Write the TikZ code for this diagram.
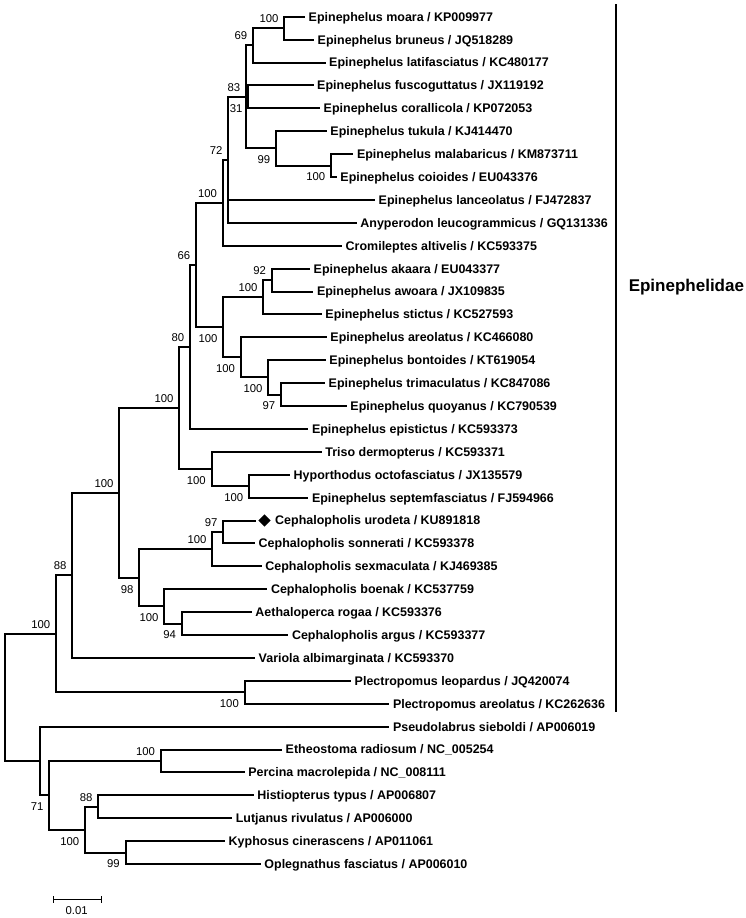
\documentclass[tikz,border=0pt]{standalone}
\usepackage{fontspec}
\setmainfont{Liberation Sans}
\usetikzlibrary{calc,shapes.geometric}
\begin{document}
\begin{tikzpicture}[x=0.75pt,y=-0.75pt,
  br/.style={line width=1.5pt},
  leaf/.style={anchor=west, inner xsep=2.6pt, inner ysep=0pt, font=\fontsize{9.35}{10}\selectfont\bfseries, text height=6.7pt, text depth=0pt},
  bs/.style={anchor=east, inner sep=0pt, font=\fontsize{8.5}{9}\selectfont},
  dmark/.style={diamond, fill=black, inner sep=0pt, minimum width=9.2pt, minimum height=9.2pt},
  cladelab/.style={anchor=west, inner sep=0pt, font=\fontsize{12.75}{14}\selectfont\bfseries}
]
\useasboundingbox (0,0) rectangle (746,918);
% ---- leaf tips ----
\coordinate (l0) at (305,16.7);
\coordinate (l1) at (314,39.6);
\coordinate (l2) at (325.5,62.5);
\coordinate (l3) at (313.5,85.4);
\coordinate (l4) at (320,108.3);
\coordinate (l5) at (326.7,131.2);
\coordinate (l6) at (353.3,154.1);
\coordinate (l7) at (336.7,177.0);
\coordinate (l8) at (375,199.9);
\coordinate (l9) at (356.7,222.8);
\coordinate (l10) at (342,245.7);
\coordinate (l11) at (310,268.6);
\coordinate (l12) at (313.3,291.5);
\coordinate (l13) at (321.7,314.4);
\coordinate (l14) at (326.7,337.3);
\coordinate (l15) at (325.7,360.2);
\coordinate (l16) at (325,383.1);
\coordinate (l17) at (346.7,406.0);
\coordinate (l18) at (308.3,428.9);
\coordinate (l19) at (321.7,451.8);
\coordinate (l20) at (290,474.7);
\coordinate (l21) at (308.3,497.6);
\coordinate (l22) at (256,520.5);
\coordinate (l23) at (255,543.4);
\coordinate (l24) at (261.7,566.3);
\coordinate (l25) at (267.3,589.2);
\coordinate (l26) at (251.7,612.1);
\coordinate (l27) at (288.3,635.0);
\coordinate (l28) at (255,657.9);
\coordinate (l29) at (351,680.8);
\coordinate (l30) at (389.3,703.7);
\coordinate (l31) at (389.3,726.6);
\coordinate (l32) at (282,749.5);
\coordinate (l33) at (244.6,772.4);
\coordinate (l34) at (253.6,795.3);
\coordinate (l35) at (232.1,818.2);
\coordinate (l36) at (225,841.1);
\coordinate (l37) at (260.7,864.0);
% ---- internal nodes ----
\coordinate (N1) at (284.3,28.15);
\coordinate (N2) at (253,45.3);
\coordinate (N31) at (248.3,96.85);
\coordinate (N6) at (331,165.55);
\coordinate (N5) at (276,148.4);
\coordinate (N83) at (246,96.85);
\coordinate (N72) at (228.3,159.8);
\coordinate (T) at (222.7,202.75);
\coordinate (Na) at (271.7,280.05);
\coordinate (Nb) at (263.3,297.2);
\coordinate (Nc) at (281,394.55);
\coordinate (Nd) at (268.3,377.4);
\coordinate (Ne) at (240.7,357.35);
\coordinate (Nf) at (223.3,327.3);
\coordinate (N66) at (196,265);
\coordinate (N80) at (190,346.95);
\coordinate (Ng) at (249,486.15);
\coordinate (Nh) at (211.5,469);
\coordinate (N179) at (179.3,408);
\coordinate (Ni) at (223.3,531.95);
\coordinate (Nj) at (212.3,549.1);
\coordinate (Nk) at (181.7,623.55);
\coordinate (Nl) at (164.3,606.4);
\coordinate (N98) at (139.3,577.75);
\coordinate (N119) at (119.3,492.9);
\coordinate (N88) at (72.3,575.4);
\coordinate (Nm) at (244.6,692.25);
\coordinate (N56) at (56,633.8);
\coordinate (No) at (160.7,760.95);
\coordinate (Np) at (98.3,806.75);
\coordinate (Nq) at (125.5,852.55);
\coordinate (Nr) at (85,829.65);
\coordinate (N71) at (49.3,795.3);
\coordinate (O1) at (40,760.95);
\coordinate (R) at (5,697.4);
% ---- branches ----
\foreach \p/\c in {N1/l0,N1/l1,N2/N1,N2/l2,N31/l3,N31/l4,N6/l6,N6/l7,N5/l5,N5/N6,
  N83/N2,N83/N31,N83/N5,N72/N83,N72/l8,N72/l9,T/N72,T/l10,
  Na/l11,Na/l12,Nb/Na,Nb/l13,Nc/l16,Nc/l17,Nd/l15,Nd/Nc,Ne/l14,Ne/Nd,Nf/Nb,Nf/Ne,
  N66/T,N66/Nf,N80/N66,N80/l18,Ng/l20,Ng/l21,Nh/l19,Nh/Ng,N179/N80,N179/Nh,
  Ni/l22,Ni/l23,Nj/Ni,Nj/l24,Nk/l26,Nk/l27,Nl/l25,Nl/Nk,N98/Nj,N98/Nl,
  N119/N179,N119/N98,N88/N119,N88/l28,Nm/l29,Nm/l30,N56/N88,N56/Nm,
  No/l32,No/l33,Np/l34,Np/l35,Nq/l36,Nq/l37,Nr/Np,Nr/Nq,N71/No,N71/Nr,
  O1/l31,O1/N71,R/N56,R/O1}
  \draw[br] (\p) |- (\c);
% ---- leaf labels ----
\node[leaf] (t0) at (l0) {Epinephelus moara / KP009977};
\node[leaf] (t1) at (l1) {Epinephelus bruneus / JQ518289};
\node[leaf] (t2) at (l2) {Epinephelus latifasciatus / KC480177};
\node[leaf] (t3) at (l3) {Epinephelus fuscoguttatus / JX119192};
\node[leaf] (t4) at (l4) {Epinephelus corallicola / KP072053};
\node[leaf] (t5) at (l5) {Epinephelus tukula / KJ414470};
\node[leaf] (t6) at (l6) {Epinephelus malabaricus / KM873711};
\node[leaf] (t7) at (l7) {Epinephelus coioides / EU043376};
\node[leaf] (t8) at (l8) {Epinephelus lanceolatus / FJ472837};
\node[leaf] (t9) at (l9) {Anyperodon leucogrammicus / GQ131336};
\node[leaf] (t10) at (l10) {Cromileptes altivelis / KC593375};
\node[leaf] (t11) at (l11) {Epinephelus akaara / EU043377};
\node[leaf] (t12) at (l12) {Epinephelus awoara / JX109835};
\node[leaf] (t13) at (l13) {Epinephelus stictus / KC527593};
\node[leaf] (t14) at (l14) {Epinephelus areolatus / KC466080};
\node[leaf] (t15) at (l15) {Epinephelus bontoides / KT619054};
\node[leaf] (t16) at (l16) {Epinephelus trimaculatus / KC847086};
\node[leaf] (t17) at (l17) {Epinephelus quoyanus / KC790539};
\node[leaf] (t18) at (l18) {Epinephelus epistictus / KC593373};
\node[leaf] (t19) at (l19) {Triso dermopterus / KC593371};
\node[leaf] (t20) at (l20) {Hyporthodus octofasciatus / JX135579};
\node[leaf] (t21) at (l21) {Epinephelus septemfasciatus / FJ594966};
\node[dmark] (dm) at ($(l22)+(8.5,0)$) {};
\node[leaf] (t22) at ($(l22)+(15.5,0)$) {Cephalopholis urodeta / KU891818};
\node[leaf] (t23) at (l23) {Cephalopholis sonnerati / KC593378};
\node[leaf] (t24) at (l24) {Cephalopholis sexmaculata / KJ469385};
\node[leaf] (t25) at (l25) {Cephalopholis boenak / KC537759};
\node[leaf] (t26) at (l26) {Aethaloperca rogaa / KC593376};
\node[leaf] (t27) at (l27) {Cephalopholis argus / KC593377};
\node[leaf] (t28) at (l28) {Variola albimarginata / KC593370};
\node[leaf] (t29) at (l29) {Plectropomus leopardus / JQ420074};
\node[leaf] (t30) at (l30) {Plectropomus areolatus / KC262636};
\node[leaf] (t31) at (l31) {Pseudolabrus sieboldi / AP006019};
\node[leaf] (t32) at (l32) {Etheostoma radiosum / NC\_005254};
\node[leaf] (t33) at (l33) {Percina macrolepida / NC\_008111};
\node[leaf] (t34) at (l34) {Histiopterus typus / AP006807};
\node[leaf] (t35) at (l35) {Lutjanus rivulatus / AP006000};
\node[leaf] (t36) at (l36) {Kyphosus cinerascens / AP011061};
\node[leaf] (t37) at (l37) {Oplegnathus fasciatus / AP006010};
% ---- bootstrap values ----
\foreach \n/\v in {N1/100,N2/69,N83/83,N72/72,T/100,N66/66,Na/92,Nb/100,N80/80,N179/100,
  N119/100,N88/88,N56/100,Ni/97,Nj/100,No/100,Np/88}
  \node[bs] (a\n) at ($(\n)+(-5.5,-9.5)$) {\v};
\foreach \n/\v in {N31/31,N5/99,N6/100,Nf/100,Ne/100,Nd/100,Nc/97,Nh/100,Ng/100,
  N98/98,Nl/100,Nk/94,Nm/100,Nr/100,Nq/99,N71/71}
  \node[bs] (b\n) at ($(\n)+(-5.5,11.5)$) {\v};
% ---- clade bar ----
\coordinate (bt) at (616,4);
\coordinate (bb) at (616,712);
\draw[line width=2.1pt] (bt) -- (bb);
\node[cladelab] (clade) at (628.5,287.3) {Epinephelidae};
% ---- scale bar ----
\coordinate (s1) at (53.3,899.3);
\coordinate (s2) at (101.7,899.3);
\draw[line width=1.1pt] (s1) -- (s2);
\draw[line width=1.1pt] ($(s1)+(0,-3.2)$) -- ($(s1)+(0,3.2)$);
\draw[line width=1.1pt] ($(s2)+(0,-3.2)$) -- ($(s2)+(0,3.2)$);
\node[inner sep=0pt, font=\fontsize{8.5}{9}\selectfont] (sl) at (76.7,910.5) {0.01};
\end{tikzpicture}
\end{document}
